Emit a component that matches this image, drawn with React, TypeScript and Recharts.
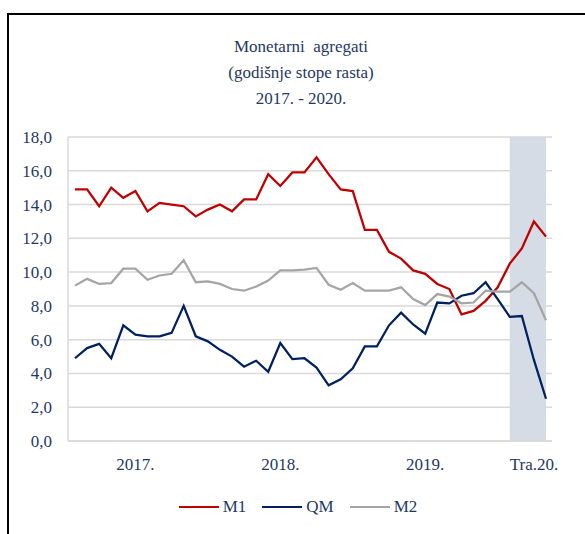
import { LineChart, Line, XAxis, YAxis, CartesianGrid, ReferenceArea } from "recharts";

const months = ["Sij", "Velj", "Ožu", "Tra", "Svi", "Lip", "Srp", "Kol", "Ruj", "Lis", "Stu", "Pro"];
const years = ["17", "18", "19", "20"];

// mjeseci od Sij.17 do Tra.20
const categories: string[] = [];
years.forEach((y) => {
  months.forEach((m) => {
    categories.push(`${m}.${y}`);
  });
});
const periods = categories.slice(0, 40);

const m1 = [
  14.9, 14.9, 13.9, 15.0, 14.4, 14.8, 13.6, 14.1, 14.0, 13.9, 13.3, 13.7,
  14.0, 13.6, 14.3, 14.3, 15.8, 15.1, 15.9, 15.9, 16.8, 15.8, 14.9, 14.8,
  12.5, 12.5, 11.2, 10.8, 10.1, 9.9, 9.3, 9.0, 7.5, 7.7, 8.3, 9.1,
  10.5, 11.4, 13.0, 12.1,
];
const qm = [
  4.9, 5.5, 5.75, 4.9, 6.85, 6.3, 6.2, 6.2, 6.4, 8.0, 6.2, 5.9,
  5.4, 5.0, 4.4, 4.75, 4.1, 5.8, 4.85, 4.9, 4.35, 3.3, 3.65, 4.3,
  5.6, 5.6, 6.85, 7.6, 6.9, 6.35, 8.2, 8.15, 8.6, 8.75, 9.4, 8.4,
  7.35, 7.4, 4.8, 2.5,
];
const m2 = [
  9.2, 9.6, 9.3, 9.35, 10.2, 10.2, 9.55, 9.8, 9.9, 10.7, 9.4, 9.45,
  9.3, 9.0, 8.9, 9.15, 9.5, 10.1, 10.1, 10.15, 10.25, 9.25, 8.95, 9.35,
  8.9, 8.9, 8.9, 9.1, 8.4, 8.05, 8.7, 8.55, 8.15, 8.2, 8.9, 8.85,
  8.85, 9.4, 8.75, 7.15,
];

const xTicks = ["Lip.17", "Lip.18", "Lip.19", "Tra.20"];
const xTickLabels = ["2017.", "2018.", "2019.", "Tra.20."];
const yTicks = [0, 2, 4, 6, 8, 10, 12, 14, 16, 18];
const shadeFrom = "Sij.20";
const shadeTo = "Tra.20";

const series = [
  { key: "M1", color: "#c00000" },
  { key: "QM", color: "#002060" },
  { key: "M2", color: "#a5a5a5" },
];

const data = periods.map((p, i) => ({ month: p, M1: m1[i], QM: qm[i], M2: m2[i] }));

const FONT = '"Liberation Serif", "Times New Roman", serif';
const TEXT = "#1f3864";

// oznaka na x osi; zadnja je pomaknuta ulijevo kao u originalu
const XTick = (props: any) => {
  const { x, y, payload } = props;
  const idx = xTicks.indexOf(payload.value);
  const label = idx >= 0 ? xTickLabels[idx] : payload.value;
  const shift = payload.value === "Tra.20" ? -12 : 0;
  return (
    <text x={x + shift} y={y} dy="0.71em" textAnchor="middle" fill={TEXT} fontSize={17} fontFamily={FONT}>
      {label}
    </text>
  );
};

export default function App() {
  return (
    <div style={{ position: "absolute", left: 0, top: 0, width: 585, height: 534, background: "#fff", overflow: "hidden" }}>
      {/* okvir */}
      <div
        style={{
          position: "absolute",
          left: 7,
          top: 13,
          width: 600,
          height: 600,
          borderLeft: "2px solid #000",
          borderTop: "2px solid #000",
        }}
      />

      {/* naslov */}
      <div
        style={{
          position: "absolute",
          left: 0,
          top: 34,
          width: 602,
          textAlign: "center",
          fontFamily: FONT,
          fontSize: 17,
          lineHeight: "26px",
          color: TEXT,
        }}
      >
        <div>Monetarni&nbsp; agregati</div>
        <div>(godišnje stope rasta)</div>
        <div>2017. - 2020.</div>
      </div>

      <div style={{ position: "absolute", left: 0, top: 0 }}>
        <LineChart width={585} height={534} data={data} margin={{ top: 137, right: 33, bottom: 63, left: 8 }}>
          <CartesianGrid vertical={false} stroke="#d9d9d9" strokeWidth={1.5} />
          <ReferenceArea x1={shadeFrom} x2={shadeTo} y1={0} y2={18} fill="#d6dce5" fillOpacity={1} stroke="none" />
          <XAxis
            dataKey="month"
            ticks={xTicks}
            interval={0}
            tick={<XTick />}
            tickLine={false}
            tickMargin={11}
            height={30}
            padding={{ left: 7, right: 6 }}
            axisLine={{ stroke: "#d9d9d9", strokeWidth: 1.5 }}
          />
          <YAxis
            domain={[0, 18]}
            ticks={yTicks}
            width={60}
            tickLine={false}
            tickMargin={10}
            tickFormatter={(v: number) => v.toFixed(1).replace(".", ",")}
            tick={{ fill: TEXT, fontSize: 17, fontFamily: FONT }}
            axisLine={{ stroke: "#d9d9d9", strokeWidth: 1.5 }}
          />
          {series.map((s) => (
            <Line
              key={s.key}
              type="linear"
              dataKey={s.key}
              stroke={s.color}
              strokeWidth={2.25}
              dot={false}
              isAnimationActive={false}
            />
          ))}
        </LineChart>
      </div>

      {/* legenda */}
      <div
        style={{
          position: "absolute",
          left: 0,
          top: 497,
          width: 596,
          display: "flex",
          justifyContent: "center",
          alignItems: "center",
          fontFamily: FONT,
          fontSize: 17,
          color: TEXT,
          gap: 16,
        }}
      >
        {series.map((s) => (
          <div key={s.key} style={{ display: "flex", alignItems: "center", gap: 4 }}>
            <span style={{ display: "inline-block", width: 40, height: 2, background: s.color }} />
            <span>{s.key}</span>
          </div>
        ))}
      </div>
    </div>
  );
}
